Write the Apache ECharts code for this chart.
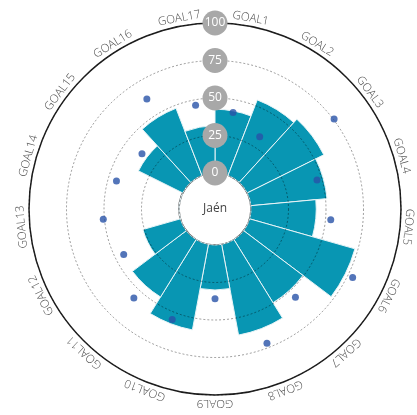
<!DOCTYPE html>
<html>
<head>
<meta charset="utf-8">
<script src="https://cdn.jsdelivr.net/npm/echarts@6/dist/echarts.min.js"></script>
<style>html,body{margin:0;padding:0;background:#fff;}#c{width:417px;height:415px;}</style>
</head>
<body>
<div id="c"></div>
<script>
var categories = ['GOAL1','GOAL2','GOAL3','GOAL4','GOAL5','GOAL6','GOAL7','GOAL8','GOAL9','GOAL10','GOAL11','GOAL12','GOAL13','GOAL14','GOAL15','GOAL16','GOAL17'];
var barValues = [42.5, 54, 57, 51, 43.5, 73, 49.5, 61.5, 30, 58, 45, 26, 0, 0, 33, 48, 31.5];
var dotValues = [41.5, 32.6, 75.5, 46.7, 53.5, 78.5, 55.6, 71.9, 35.8, 55, 56.3, 44, 50.8, 44.3, 37, 62.3, 46.4];
var radiusTicks = [0, 25, 50, 75, 100];
var centerName = 'Jaén';

var CX = 215, CY = 209, R0 = 36, R1 = 186, LABEL_R = 194;

var chart = echarts.init(document.getElementById('c'), null, {renderer: 'canvas'});

var labelGraphics = categories.map(function (name, i) {
  var theta = (i + 0.5) * 2 * Math.PI / categories.length;
  return {
    type: 'text',
    x: CX + LABEL_R * Math.sin(theta),
    y: CY - LABEL_R * Math.cos(theta),
    rotation: -theta,
    style: {
      text: name, x: 0, y: 0,
      textAlign: 'center', textVerticalAlign: 'middle',
      fill: '#4a4a4a', fontSize: 11.5, fontFamily: 'Open Sans', fontWeight: 300
    },
    z: 10
  };
});
labelGraphics.push({
  type: 'text', x: CX, y: CY,
  style: {text: centerName, x: 0, y: 0, textAlign: 'center', textVerticalAlign: 'middle',
    fill: '#444', fontSize: 12, fontFamily: 'Open Sans'},
  z: 10
});

chart.setOption({
  animation: false,
  backgroundColor: '#fff',
  polar: {center: [CX, CY], radius: [R0, R1]},
  angleAxis: {
    type: 'category',
    data: categories,
    startAngle: 90,
    clockwise: true,
    axisLine: {show: true, lineStyle: {color: '#222', width: 1.5}},
    axisTick: {show: false},
    axisLabel: {show: false},
    splitLine: {show: false}
  },
  radiusAxis: {
    type: 'value',
    min: radiusTicks[0],
    max: radiusTicks[radiusTicks.length - 1],
    interval: 25,
    z: 3,
    axisLine: {show: false},
    axisTick: {show: false},
    splitLine: {show: true, lineStyle: {color: 'rgba(0,0,0,0.38)', type: [2, 2], width: 1}},
    axisLabel: {
      show: true,
      margin: 0,
      align: 'center',
      verticalAlign: 'middle',
      color: '#fff',
      fontSize: 12,
      fontFamily: 'Open Sans',
      backgroundColor: '#a8a8a8',
      width: 25, height: 25, lineHeight: 25,
      borderRadius: 12.5
    }
  },
  series: [
    {
      type: 'bar',
      coordinateSystem: 'polar',
      data: barValues,
      barCategoryGap: '0%',
      itemStyle: {color: '#0896b3', borderColor: '#e8f4f7', borderWidth: 1},
      z: 2
    },
    {
      type: 'scatter',
      coordinateSystem: 'polar',
      data: dotValues,
      symbolSize: 7,
      itemStyle: {color: '#2853a8'},
      z: 4
    }
  ],
  graphic: labelGraphics
});
</script>
</body>
</html>
